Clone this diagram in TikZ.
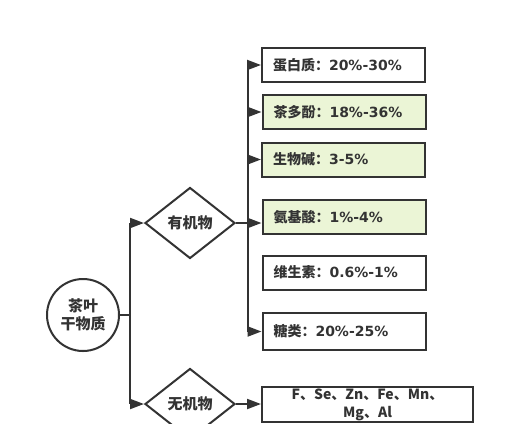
\documentclass[tikz,border=0pt]{standalone}
\usepackage{fontspec}
\setmainfont{Noto Sans CJK SC}
\newfontfamily\numf{DejaVu Sans}
\usetikzlibrary{shapes.geometric,arrows.meta}
\definecolor{ln}{HTML}{333333}
\definecolor{gr}{HTML}{EBF5D6}
\newcommand{\pct}[1]{{\numf\bfseries #1}}
\begin{document}
\begin{tikzpicture}[x=1bp,y=-1bp,
  every node/.style={text=ln,font=\bfseries\fontsize{14bp}{17bp}\selectfont},
  conn/.style={draw=ln,line width=2bp},
  arr/.style={conn,-{Triangle[length=14bp,width=10bp]}},
  rootnode/.style={circle,draw=ln,line width=2bp,minimum size=72bp,inner sep=0pt,align=center,font=\bfseries\fontsize{15bp}{18bp}\selectfont},
  dia/.style={diamond,draw=ln,line width=2bp,minimum width=90bp,minimum height=71bp,inner sep=0pt,font=\bfseries\fontsize{15bp}{18bp}\selectfont},
  itembox/.style={rectangle,draw=ln,line width=2bp,minimum width=163bp,minimum height=34bp,text width=141bp,inner xsep=11bp,inner ysep=0pt,align=left},
  greenbox/.style={itembox,fill=gr},
  minbox/.style={rectangle,draw=ln,line width=2bp,minimum width=211bp,minimum height=35bp,inner sep=0pt,align=center,font=\bfseries\fontsize{14bp}{18bp}\selectfont}
]
\useasboundingbox (0,0) rectangle (505,423);
\fill[white] (0,0) rectangle (505,423);

\node[rootnode] (root) at (83,315) {茶叶\\干物质};
\node[dia] (org) at (190,223) {有机物};
\node[dia] (inorg) at (190,404) {无机物};

\node[itembox] (b1) at (343.5,65) {蛋白质：\pct{20\%-30\%}};
\node[greenbox] (b2) at (344,112) {茶多酚：\pct{18\%-36\%}};
\node[greenbox] (b3) at (343.5,159.5) {生物碱：\pct{3-5\%}};
\node[greenbox] (b4) at (344,217) {氨基酸：\pct{1\%-4\%}};
\node[itembox] (b5) at (344,272.5) {维生素：\pct{0.6\%-1\%}};
\node[itembox,minimum height=37bp] (b6) at (344,331.5) {糖类：\pct{20\%-25\%}};
\node[minbox] (b7) at (367.5,404.5) {F、Se、Zn、Fe、Mn、\\Mg、Al};

\coordinate (t1) at (130,315);
\coordinate (t2) at (248,223);

% first trunk
\draw[conn] (root.east) -- (t1);
\draw[conn] (t1 |- org.west) -- (t1 |- inorg.west);
\draw[arr] (t1 |- org.west) -- (org.west);
\draw[arr] (t1 |- inorg.west) -- (inorg.west);

% second trunk
\draw[conn] (t2 |- b1.west) -- (t2 |- b6.west);
\draw[arr] (t2 |- b1.west) -- (b1.west);
\draw[arr] (t2 |- b2.west) -- (b2.west);
\draw[arr] (t2 |- b3.west) -- (b3.west);
\draw[arr] (org.east) -- (org.east -| b4.west);
\draw[arr] (t2 |- b6.west) -- (b6.west);
\draw[arr] (inorg.east) -- (inorg.east -| b7.west);
\end{tikzpicture}
\end{document}
